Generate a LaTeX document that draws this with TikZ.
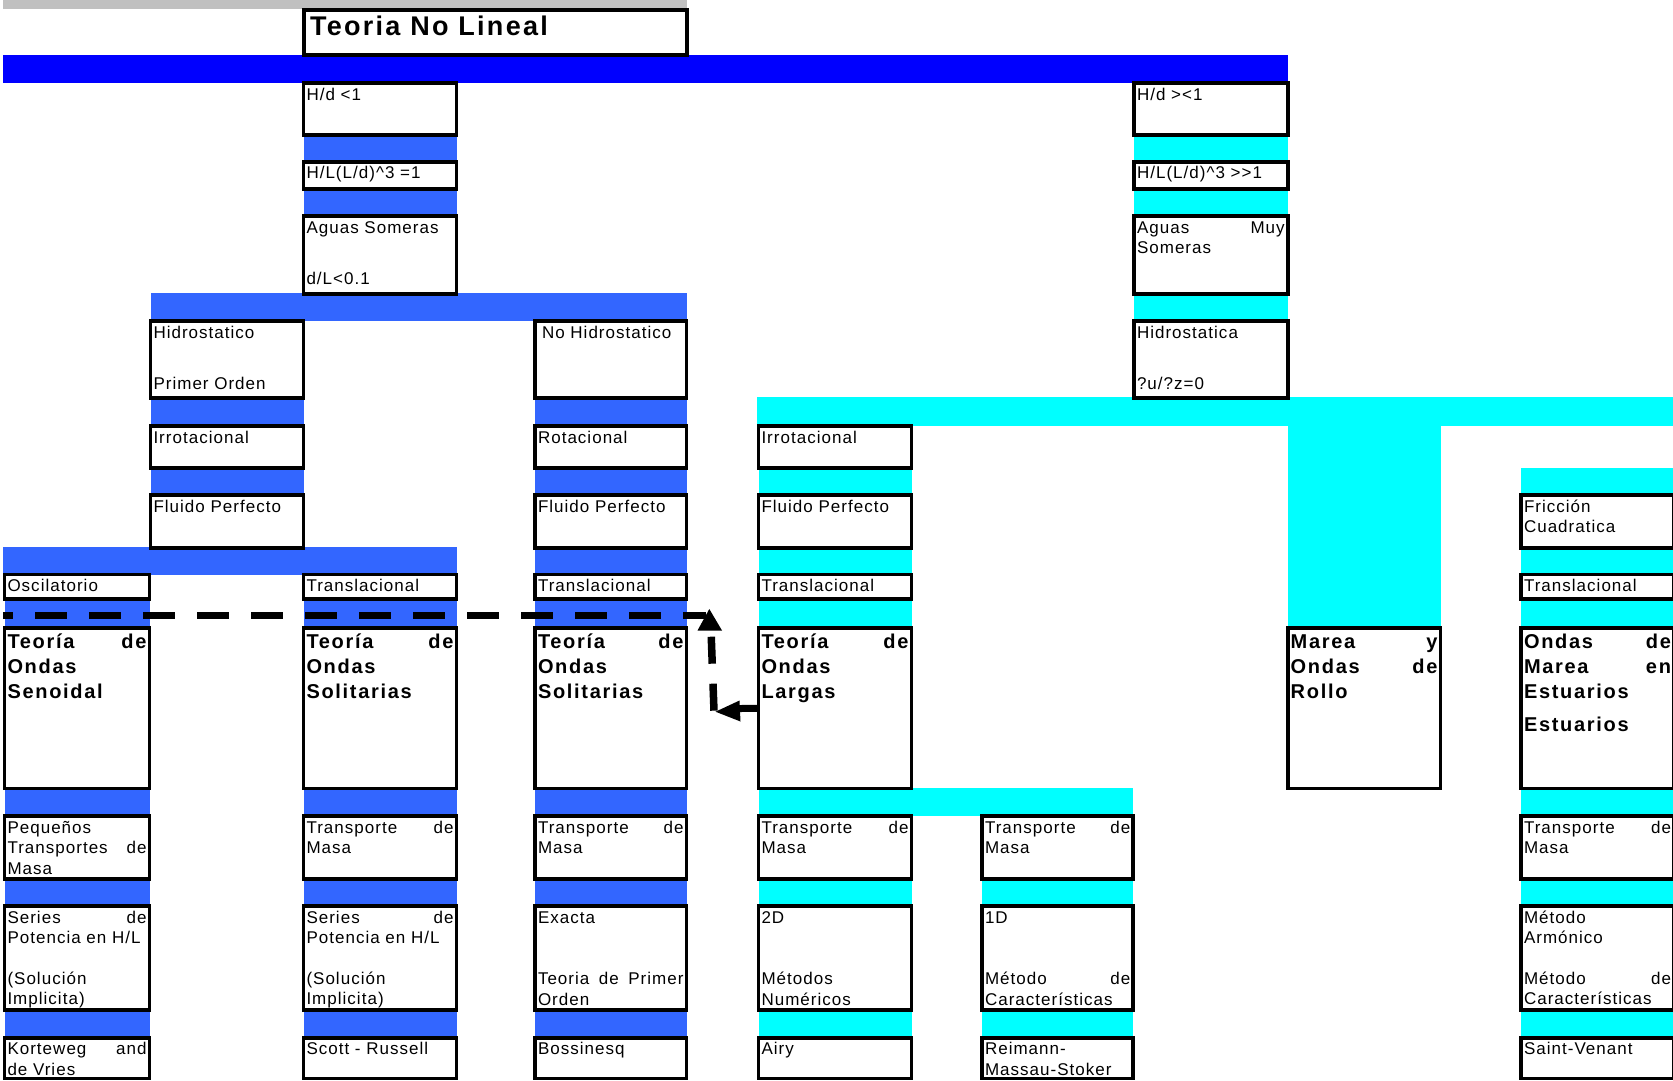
\documentclass[tikz,border=0pt]{standalone}
\usepackage{fontspec}
\setmainfont{Liberation Sans}
\newfontfamily\smallfam[LetterSpace=6]{Liberation Sans}
\newfontfamily\boldfam[LetterSpace=8.5]{Liberation Sans}
\usetikzlibrary{fit}
\definecolor{dblue}{HTML}{0000FF}
\definecolor{mblue}{HTML}{3366FF}
\definecolor{cyanc}{HTML}{00FFFF}
\definecolor{grayc}{HTML}{C0C0C0}
\newcommand\fsm{\smallfam\fontsize{17}{20.7}\selectfont}
\newcommand\fbd{\boldfam\bfseries\fontsize{20}{25.3}\selectfont}
\newcommand\fti{\boldfam\bfseries\fontsize{27}{30}\selectfont}
\tikzset{
  boxst/.style={draw=black, line width=3.9pt, fill=white, inner sep=0pt, outer sep=0pt},
  txt/.style={inner sep=0pt, outer sep=0pt, align=left, anchor=base west, font=\fsm},
  btxt/.style={txt, font=\fbd},
  stripeB/.style={fill=mblue},
  stripeC/.style={fill=cyanc},
}
\newcommand\bx[6]{%
  \node[boxst, fit={(#2,#3) (#4,#5)}] (#1) {};
  \pgfmathsetmacro\boxtw{#4-#2-6}%
  \node[txt, text width=\boxtw pt] (#1t) at ([shift={(3,17)}]#1.north west) {#6};
}
\newcommand\bb[6]{%
  \node[boxst, fit={(#2,#3) (#4,#5)}] (#1) {};
  \pgfmathsetmacro\boxtw{#4-#2-6}%
  \node[btxt, text width=\boxtw pt] (#1t) at ([shift={(3,20)}]#1.north west) {#6};
}
\begin{document}
\begin{tikzpicture}[x=1pt,y=-1pt]
\useasboundingbox (0,0) rectangle (1673,1080);
\clip (0,0) rectangle (1673,1080);
\fill[white] (0,0) rectangle (1673,1080);
% ---------- bars and stripes ----------
\fill[grayc] (3,0) rectangle (687,8.5);
\fill[dblue] (3,55) rectangle (1288,83.3);
\fill[stripeB] (303.5,135) rectangle (456.5,161.7);
\fill[stripeB] (303.5,189.3) rectangle (456.5,216);
\fill[stripeC] (1134,135) rectangle (1287.7,161.7);
\fill[stripeC] (1134,189.3) rectangle (1287.7,216);
\fill[stripeC] (1134,294) rectangle (1287.7,321);
\fill[stripeB] (151,293.3) rectangle (686.5,320.7);
\fill[stripeB] (151,398.3) rectangle (303.5,426);
\fill[stripeB] (151,467.7) rectangle (303.5,495);
\fill[stripeB] (535,398.3) rectangle (686.5,426);
\fill[stripeB] (535,467.7) rectangle (686.5,495);
\fill[stripeB] (535,547.7) rectangle (686.5,574);
\fill[stripeB] (535,599.3) rectangle (686.5,628.3);
\fill[stripeC] (757.3,397.3) rectangle (1680,426);
\fill[stripeC] (758.5,467.7) rectangle (911.5,495);
\fill[stripeC] (758.5,547.7) rectangle (911.5,574);
\fill[stripeC] (758.5,599.3) rectangle (911.5,628.3);
\fill[stripeC] (1287.7,426) rectangle (1441,628.3);
\fill[stripeC] (1521,468.3) rectangle (1680,495);
\fill[stripeC] (1521,547.7) rectangle (1680,574);
\fill[stripeC] (1521,599.3) rectangle (1680,628.3);
\fill[stripeB] (3,547.3) rectangle (456.5,575);
\fill[stripeB] (4.5,599.3) rectangle (149.5,628.3);
\fill[stripeB] (303.5,599.3) rectangle (456.5,628.3);
\fill[stripeC] (758.5,788.3) rectangle (1133.3,816);
\foreach \ya/\yb in {788.3/816, 879/906, 1010.3/1037.7}{
  \fill[stripeB] (4.5,\ya) rectangle (149.5,\yb);
  \fill[stripeB] (303.5,\ya) rectangle (456.5,\yb);
  \fill[stripeB] (535,\ya) rectangle (686.5,\yb);
  \fill[stripeC] (758.5,\ya) rectangle (911.5,\yb);
  \fill[stripeC] (982,\ya) rectangle (1133.3,\yb);
  \fill[stripeC] (1521,\ya) rectangle (1680,\yb);
}
% ---------- dashed connector ----------
\coordinate (dL) at (3,615);
\coordinate (dR) at (706,615);
\coordinate (upTip) at (709.3,609);
\coordinate (cv1) at (711,630);
\coordinate (cv2) at (714,711);
\coordinate (ltTip) at (715.5,711.7);
\draw[line width=7pt, dash pattern=on 32pt off 22pt, dash phase=22pt] (dL) -- (dR);
\fill (upTip) -- (697.5,630.5) -- (722,630.5) -- cycle;
\draw[line width=7.5pt, dash pattern=on 27pt off 20pt, dash phase=40.3pt] (cv1) -- (cv2);
\fill (ltTip) -- (739.5,700.5) -- (740.5,721.5) -- cycle;
% ---------- title ----------
\node[boxst, fit={(304,10) (686.6,54.7)}] (title) {};
\node[txt, font=\fti] (titlet) at ([shift={(6,25)}]title.north west) {Teoria No Lineal};
% ---------- row 1-3 ----------
\bx{c1}{303.5}{83.3}{456.5}{135}{H/d <1}
\bx{g1}{1134}{83.3}{1287.7}{135}{H/d >{}<1}
\bx{c2}{303.5}{161.7}{456.5}{189.3}{H/L(L/d)\textasciicircum 3 =1}
\bx{g2}{1134}{161.7}{1287.7}{189.3}{H/L(L/d)\textasciicircum 3 >{}>1}
\bx{c3}{303.5}{216}{456.5}{294}{Aguas Someras\\[30.3pt]d/L<0.1}
\bx{g3}{1134}{216}{1287.7}{294}{Aguas\hfill Muy\\Someras}
% ---------- row 4 ----------
\bx{b4}{150.5}{321}{303.5}{398.3}{Hidrostatico\\[30.3pt]Primer Orden}
\bx{d4}{535}{321}{686.5}{398.3}{\hspace*{4pt}No Hidrostatico}
\bx{g4}{1134}{321}{1287.7}{398.3}{Hidrostatica\\[30.3pt]?u/?z=0}
% ---------- row 5 ----------
\bx{b5}{150.5}{426}{303.5}{467.7}{Irrotacional}
\bx{d5}{535}{426}{686.5}{467.7}{Rotacional}
\bx{e5}{758.5}{426}{911.5}{467.7}{Irrotacional}
% ---------- row 6 ----------
\bx{b6}{150.5}{495}{303.5}{547.7}{Fluido Perfecto}
\bx{d6}{535}{495}{686.5}{547.7}{Fluido Perfecto}
\bx{e6}{758.5}{495}{911.5}{547.7}{Fluido Perfecto}
\bx{i6}{1521}{495}{1674}{547.7}{Fricción\\Cuadratica}
% ---------- row 7 ----------
\bx{a7}{4.5}{574.5}{149.5}{599.3}{Oscilatorio}
\bx{c7}{303.5}{574.5}{456.5}{599.3}{Translacional}
\bx{d7}{535}{574.5}{686.5}{599.3}{Translacional}
\bx{e7}{758.5}{574.5}{911.5}{599.3}{Translacional}
\bx{i7}{1521}{574.5}{1674}{599.3}{Translacional}
% ---------- row 8 ----------
\bb{a8}{4.5}{628.3}{149.5}{788.5}{Teoría\hfill de\\Ondas\\Senoidal}
\bb{c8}{303.5}{628.3}{456.5}{788.5}{Teoría\hfill de\\Ondas\\Solitarias}
\bb{d8}{535}{628.3}{686.5}{788.5}{Teoría\hfill de\\Ondas\\Solitarias}
\bb{e8}{758.5}{628.3}{911.5}{788.5}{Teoría\hfill de\\Ondas\\Largas}
\bb{h8}{1287.7}{628.3}{1440.5}{788.5}{Marea\hfill y\\Ondas\hfill de\\Rollo}
\bb{i8}{1521}{628.3}{1674}{788.5}{Ondas\hfill de\\Marea\hfill en\\Estuarios\\[7pt]Estuarios}
% ---------- row 9 ----------
\bx{a9}{4.5}{816}{149.5}{879}{Pequeños\\Transportes\hfill de\\Masa}
\bx{c9}{303.5}{816}{456.5}{879}{Transporte\hfill de\\Masa}
\bx{d9}{535}{816}{686.5}{879}{Transporte\hfill de\\Masa}
\bx{e9}{758.5}{816}{911.5}{879}{Transporte\hfill de\\Masa}
\bx{f9}{982}{816}{1133.3}{879}{Transporte\hfill de\\Masa}
\bx{i9}{1521}{816}{1674}{879}{Transporte\hfill de\\Masa}
% ---------- row 10 ----------
\bx{a10}{4.5}{906}{149.5}{1010.3}{Series\hfill de\\Potencia en H/L\\[19.8pt](Solución\\Implicita)}
\bx{c10}{303.5}{906}{456.5}{1010.3}{Series\hfill de\\Potencia en H/L\\[19.8pt](Solución\\Implicita)}
\bx{d10}{535}{906}{686.5}{1010.3}{Exacta\\[40.8pt]Teoria\hfill de\hfill Primer\\Orden}
\bx{e10}{758.5}{906}{911.5}{1010.3}{2D\\[40.8pt]Métodos\\Numéricos}
\bx{f10}{982}{906}{1133.3}{1010.3}{1D\\[40.8pt]Método\hfill de\\Características}
\bx{i10}{1521}{906}{1674}{1010.3}{Método\\Armónico\\[19.8pt]Método\hfill de\\Características}
% ---------- row 11 ----------
\bx{a11}{4.5}{1037.7}{149.5}{1078.5}{Korteweg\hfill and\\de Vries}
\bx{c11}{303.5}{1037.7}{456.5}{1078.5}{Scott - Russell}
\bx{d11}{535}{1037.7}{686.5}{1078.5}{Bossinesq}
\bx{e11}{758.5}{1037.7}{911.5}{1078.5}{Airy}
\bx{f11}{982}{1037.7}{1133.3}{1078.5}{Reimann-\\Massau-Stoker}
\bx{i11}{1521}{1037.7}{1674}{1078.5}{Saint-Venant}
% ---------- arrow stub into Largas box ----------
\draw[line width=7pt] (739,708.5) -- (e8.west);
\end{tikzpicture}
\end{document}
